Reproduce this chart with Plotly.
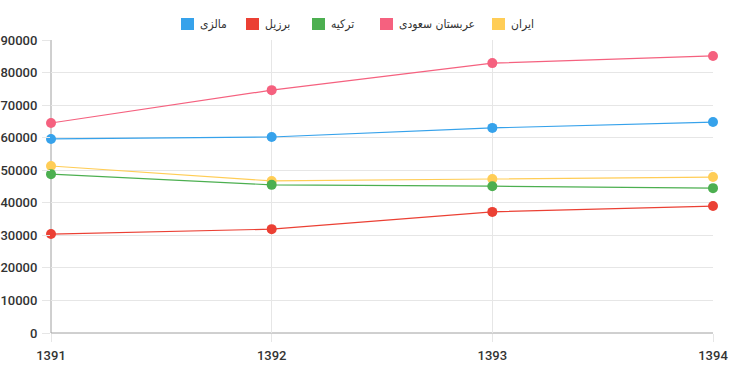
import plotly.graph_objects as go

years = [1391, 1392, 1393, 1394]
names = ["مالزی", "برزیل", "ترکیه", "عربستان سعودی", "ایران"]
colors = ["#36A2EB", "#EB4034", "#4CAF50", "#F5617F", "#FFCD56"]
malaysia = [59600, 60200, 63000, 64800]
brazil = [30400, 31900, 37200, 39000]
turkey = [48800, 45500, 45100, 44500]
saudi = [64500, 74600, 82900, 85100]
iran = [51300, 46700, 47300, 47900]
series = [malaysia, brazil, turkey, saudi, iran]
y_ticks = list(range(0, 90001, 10000))

# legend box x-positions (pixels) and geometry
legend_x = [181, 246, 312, 380, 492]
W, H = 732, 367
ml, mr, mt, mb = 51, 19, 40, 34
pw, ph = W - ml - mr, H - mt - mb

fig = go.Figure()
for name, col, vals in reversed(list(zip(names, colors, series))):
    fig.add_trace(go.Scatter(
        x=years, y=vals, name=name, mode="lines+markers",
        line=dict(color=col, width=1.2),
        marker=dict(color=col, size=10),
        cliponaxis=False, showlegend=False,
    ))

shapes = []
annotations = []
for name, col, lx in zip(names, colors, legend_x):
    x0 = (lx - ml) / pw
    x1 = (lx + 13 - ml) / pw
    y0 = (H - mb - 30) / ph
    y1 = (H - mb - 18) / ph
    shapes.append(dict(type="rect", xref="paper", yref="paper",
                       x0=x0, x1=x1, y0=y0, y1=y1,
                       fillcolor=col, line=dict(width=0)))
    annotations.append(dict(xref="paper", yref="paper",
                            x=(lx + 17 - ml) / pw, y=(H - mb - 24) / ph,
                            xanchor="left", yanchor="middle", showarrow=False,
                            text=name,
                            font=dict(family="DejaVu Sans Condensed, DejaVu Sans", size=12, color="#333")))

fig.update_layout(
    width=W, height=H,
    margin=dict(l=ml, r=mr, t=mt, b=mb),
    paper_bgcolor="white", plot_bgcolor="white",
    shapes=shapes, annotations=annotations,
    font=dict(family="Roboto", size=13, color="#333"),
    xaxis=dict(
        range=[1391, 1394], tickvals=years, ticktext=[str(y) for y in years],
        showgrid=True, gridcolor="#e6e6e6", gridwidth=1,
        showline=False, zeroline=False,
        ticks="outside", ticklen=8, tickcolor="#e6e6e6",
        tickfont=dict(family="Roboto", size=13, color="#333", weight=500),
        ticklabelstandoff=2,
        automargin=False, fixedrange=True,
    ),
    yaxis=dict(
        range=[0, 90000], tickvals=y_ticks, ticktext=[str(v) for v in y_ticks],
        showgrid=True, gridcolor="#e6e6e6", gridwidth=1,
        showline=False, zeroline=False,
        ticks="outside", ticklen=8, tickcolor="#e6e6e6",
        tickfont=dict(family="Roboto", size=13, color="#333", weight=500),
        ticklabelstandoff=2,
        automargin=False, fixedrange=True,
    ),
)
fig.add_shape(type="line", xref="paper", yref="paper", x0=0, x1=0, y0=0, y1=1,
              line=dict(color="#a0a0a0", width=1), layer="below")
fig.add_shape(type="line", xref="paper", yref="paper", x0=0, x1=1, y0=0, y1=0,
              line=dict(color="#a0a0a0", width=1), layer="below")

fig.write_html("out.html", config={"displayModeBar": False},
               post_script="document.body.style.margin='0';document.body.style.overflow='hidden';")
